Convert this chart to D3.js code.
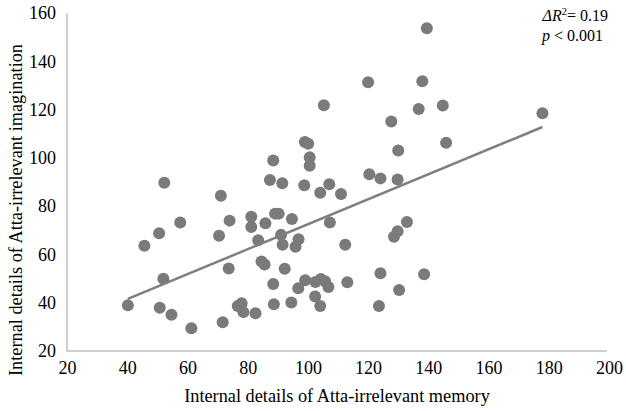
<!DOCTYPE html>
<html><head><meta charset="utf-8">
<script src="https://cdn.jsdelivr.net/npm/d3@7"></script>
<style>body{margin:0;background:#fff}svg{display:block}svg text{font-family:"Liberation Serif","Times New Roman",serif !important;fill:#000}</style>
</head><body><svg id="c" width="626" height="411"></svg>
<script>
const memory = [40.2,45.7,50.6,52.3,57.6,52.0,50.8,54.7,61.3,70.5,71.1,74.0,73.7,71.7,81.2,81.2,85.9,89.1,90.3,94.7,83.5,91.1,91.6,96.9,95.9,84.6,85.6,92.3,88.5,88.5,87.4,91.5,98.8,99.0,100.1,100.6,100.6,105.3,104.1,107.1,107.3,111.0,112.4,99.1,96.8,102.5,104.3,105.7,106.8,102.4,104.1,94.5,88.7,78.0,76.7,78.6,82.6,113.1,120.0,138.0,136.8,144.8,127.7,130.0,145.9,120.4,124.1,129.8,139.5,132.9,129.8,128.6,124.1,138.6,130.3,123.6,177.9];
const imagination = [38.9,63.6,68.8,89.7,73.2,49.9,37.9,35.0,29.4,67.7,84.3,74.0,54.2,31.9,75.6,71.4,72.9,76.9,76.9,74.7,65.9,68.1,64.0,66.3,63.2,57.1,55.8,54.1,47.8,98.9,90.8,89.5,88.7,106.6,105.8,100.2,96.7,121.8,85.5,89.1,73.2,85.0,64.0,49.3,46.0,48.6,49.8,48.9,46.5,42.6,38.6,40.1,39.4,39.8,38.6,36.1,35.6,48.5,131.3,131.7,120.2,121.7,115.1,103.0,106.3,93.2,91.5,91.0,153.7,73.4,69.6,67.3,52.2,51.8,45.3,38.6,118.5];
const xTicks = [20,40,60,80,100,120,140,160,180,200];
const yTicks = [20,40,60,80,100,120,140,160];
const fitLine = [20.8, 0.517]; // intercept, slope
const annot = ["0.19", "< 0.001"];

const FONT = "Liberation Serif";
const svg = d3.select("#c");
const x = d3.scaleLinear().domain([20,200]).range([67,609]);
const y = d3.scaleLinear().domain([20,160]).range([351,13]);

// axes
const xa = svg.append("g").attr("transform","translate(0,351)")
  .call(d3.axisBottom(x).tickValues(xTicks).tickSize(0).tickPadding(10))
  .attr("font-family",FONT).attr("font-size",18);
xa.select(".domain").attr("stroke","#bfbfbf").attr("stroke-width",1.5).attr("d","M67,0H607");
const ya = svg.append("g").attr("transform","translate(67,0)")
  .call(d3.axisLeft(y).tickValues(yTicks).tickSize(0).tickPadding(11))
  .attr("font-family",FONT).attr("font-size",18);
ya.select(".domain").attr("stroke","#bfbfbf").attr("stroke-width",1.5).attr("d","M0,13V351");

// points
svg.append("g").selectAll("circle").data(memory).join("circle")
  .attr("cx",(d)=>x(d)).attr("cy",(d,i)=>y(imagination[i])).attr("r",6)
  .attr("fill","#7a7a7a");

// regression line
const x0 = d3.min(memory), x1 = d3.max(memory);
svg.append("line")
  .attr("x1",x(x0)).attr("y1",y(fitLine[0]+fitLine[1]*x0))
  .attr("x2",x(x1)).attr("y2",y(fitLine[0]+fitLine[1]*x1))
  .attr("stroke","#7f7f7f").attr("stroke-width",2.5);

// titles
svg.append("text").attr("x",337).attr("y",402).attr("text-anchor","middle")
  .attr("font-family",FONT).attr("font-size",18.3).text("Internal details of Atta-irrelevant memory");
svg.append("text").attr("transform","translate(22,210) rotate(-90)").attr("text-anchor","middle")
  .attr("font-family",FONT).attr("font-size",18.3).text("Internal details of Atta-irrelevant imagination");

// annotation
const a1 = svg.append("text").attr("x",608).attr("y",21).attr("text-anchor","end")
  .attr("font-family",FONT).attr("font-size",16);
a1.append("tspan").attr("font-style","italic").text("ΔR");
a1.append("tspan").attr("dy",-6).attr("font-size",10.5).text("2");
a1.append("tspan").attr("dy",6).text("= " + annot[0]);
const a2 = svg.append("text").attr("x",603).attr("y",41).attr("text-anchor","end")
  .attr("font-family",FONT).attr("font-size",16);
a2.append("tspan").attr("font-style","italic").text("p");
a2.append("tspan").text(" " + annot[1]);
</script></body></html>
